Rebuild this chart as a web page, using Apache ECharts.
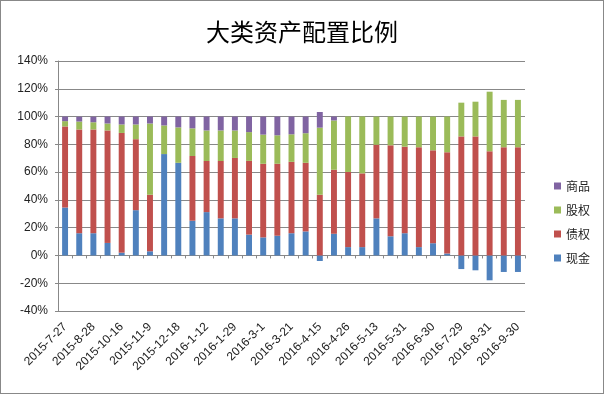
<!DOCTYPE html>
<html>
<head>
<meta charset="utf-8">
<script src="https://cdn.jsdelivr.net/npm/echarts@6/dist/echarts.min.js"></script>
<style>
html,body{margin:0;padding:0;background:#fff;}
#c{width:604px;height:394px;box-sizing:border-box;border:1px solid #888;}
</style>
</head>
<body>
<div id="c"></div>
<script>
// Categories (only every other date is shown on the axis; hidden ones left blank)
var categories = ['2015-7-27','', '2015-8-28','', '2015-10-16','', '2015-11-9','', '2015-12-18','',
  '2016-1-12','', '2016-1-29','', '2016-3-1','', '2016-3-21','', '2016-4-15','', '2016-4-26','',
  '2016-5-13','', '2016-5-31','', '2016-6-30','', '2016-7-29','', '2016-8-31','', '2016-9-30'];
var cash = [34.5,16,16,9,2,32.6,3,73,66.7,25,31.2,26.7,26.7,15,13,14.2,16,17.3,-4,15.6,6,6,26.7,13.8,16,6,8.8,1.4,-9.8,-10.7,-17.9,-11.9,-11.9];
var bond = [58.4,74.7,74.7,81,86.2,51.1,40.7,0,0,46.6,36.8,41.3,43.5,53.1,53,51.8,51.4,49.4,43.7,46.1,54.1,53.1,53,65.5,62.3,71.9,66.9,72.9,85.7,85.7,75,77.9,77.9];
var equity = [3.8,5.7,5.2,5,6.1,10.6,51.3,20.6,25.5,19.9,22,22,19.8,20.7,21,20.5,19.8,21.3,48.3,35.5,40,41,20.3,20.7,21.7,22.1,24.3,25.7,24.3,25,42.9,34.1,34.1];
var commodity = [3.3,3.5,4,5,5.7,5.7,5,6.4,7.8,8.5,10,10,10,11.3,13,13.5,12.8,12,11.3,2.8,0,0,0,0,0,0,0,0,0,0,0,0,0];
var yTicks = {min:-40, max:140, interval:20};
var seriesNames = ['现金','债权','股权','商品'];
var colors = ['#4F81BD','#C0504D','#9BBB59','#8064A2'];

var chart = echarts.init(document.getElementById('c'));
var values = [cash, bond, equity, commodity];
var series = seriesNames.map(function(n,i){
  return {name:n, type:'bar', stack:'total', data:values[i], barWidth:'42%',
    itemStyle:{color:colors[i]}, xAxisIndex:0};
});
chart.setOption({
  animation:false,
  textStyle:{fontFamily:'"Liberation Sans", "Noto Sans CJK SC", sans-serif'},
  title:{text:'大类资产配置比例', left:'center', top:14,
    textStyle:{fontSize:24, fontWeight:'normal', color:'#000', fontFamily:'"Noto Sans CJK SC"'}},
  legend:{data:['商品','股权','债权','现金'], orient:'vertical', left:548, top:174,
    itemWidth:7, itemHeight:7, itemGap:12, icon:'rect',
    textStyle:{fontSize:12, color:'#222', fontFamily:'"Noto Sans CJK SC"'}},
  grid:{left:57, right:78, top:60, bottom:82, containLabel:false},
  xAxis:[
    {type:'category', data:categories, position:'bottom',
      axisLine:{show:false, onZero:false}, axisTick:{show:false},
      axisLabel:{interval:1, rotate:45, fontSize:12, color:'#222', margin:14}},
    {type:'category', data:categories, position:'bottom',
      axisLine:{show:true, onZero:true, lineStyle:{color:'#888'}},
      axisTick:{show:true, length:3, interval:0, lineStyle:{color:'#888'}},
      axisLabel:{show:false}}
  ],
  yAxis:{type:'value', min:yTicks.min, max:yTicks.max, interval:yTicks.interval,
    axisLine:{show:true, lineStyle:{color:'#888'}},
    axisTick:{show:true, length:3, lineStyle:{color:'#888'}},
    splitLine:{lineStyle:{color:'#888'}},
    axisLabel:{formatter:'{value}%', fontSize:12, color:'#222', margin:10}},
  series:series
});
</script>
</body>
</html>
